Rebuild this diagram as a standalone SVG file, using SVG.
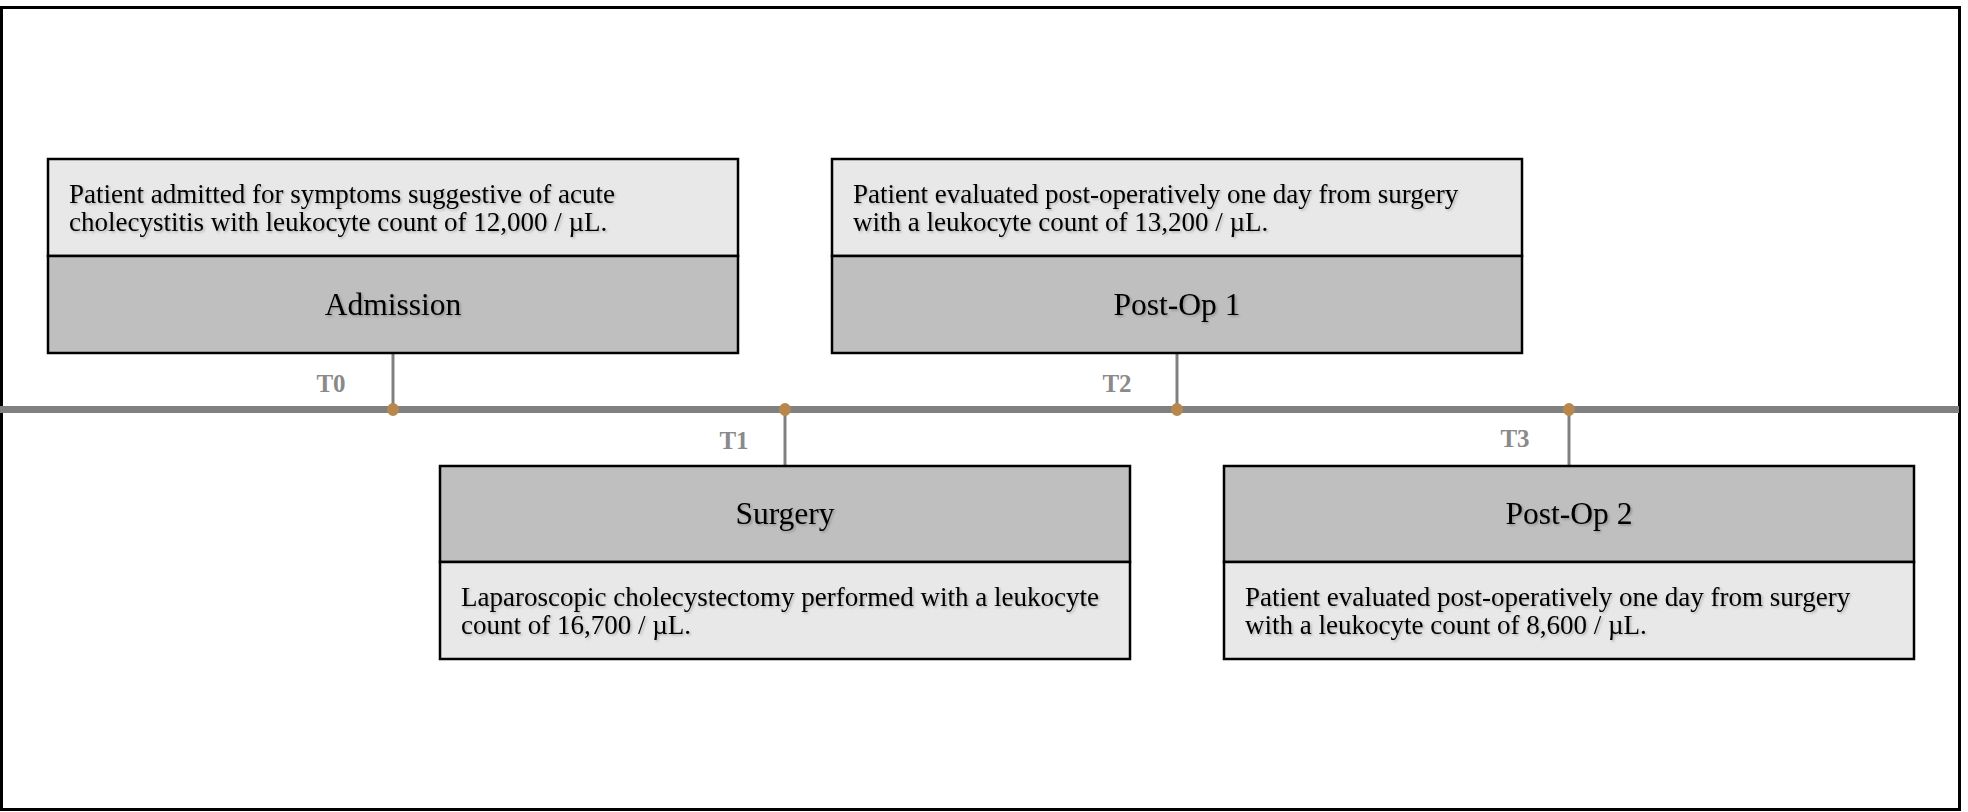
<svg xmlns="http://www.w3.org/2000/svg" width="1968" height="812" viewBox="0 0 1968 812">
<defs>
<filter id="sh" x="-10%" y="-30%" width="120%" height="160%">
<feDropShadow dx="1.5" dy="1.5" stdDeviation="1" flood-color="#000" flood-opacity="0.25"/>
</filter>
</defs>
<style>
.desc{fill:#e8e8e8;stroke:#000;stroke-width:2.5}
.head{fill:#bfbfbf;stroke:#000;stroke-width:2.5}
.dt{font-family:"Liberation Serif","Times New Roman",serif;font-size:27px;fill:#000;filter:url(#sh)}
.ht{font-family:"Liberation Serif","Times New Roman",serif;font-size:31.5px;fill:#000;text-anchor:middle;filter:url(#sh)}
.lbl{font-family:"Liberation Serif","Times New Roman",serif;font-size:25px;font-weight:bold;fill:#8a8a8a;text-anchor:middle}
.stem{stroke:#808080;stroke-width:3}
.dot{fill:#b8874d}
</style>
<rect x="1.5" y="7.5" width="1958" height="802" fill="#fff" stroke="#000" stroke-width="3"/>
<g id="connectors">
<line x1="0" y1="409.5" x2="1959" y2="409.5" stroke="#808080" stroke-width="7"/>
<line class="stem" x1="393" y1="353" x2="393" y2="409"/>
<line class="stem" x1="785" y1="409" x2="785" y2="466"/>
<line class="stem" x1="1177" y1="353" x2="1177" y2="409"/>
<line class="stem" x1="1569" y1="409" x2="1569" y2="466"/>
<ellipse class="dot" cx="393" cy="409.5" rx="6" ry="6.5"/>
<ellipse class="dot" cx="785" cy="409.5" rx="6" ry="6.5"/>
<ellipse class="dot" cx="1177" cy="409.5" rx="6" ry="6.5"/>
<ellipse class="dot" cx="1569" cy="409.5" rx="6" ry="6.5"/>
<text class="lbl" x="331" y="392">T0</text>
<text class="lbl" x="734" y="449">T1</text>
<text class="lbl" x="1117" y="392">T2</text>
<text class="lbl" x="1515" y="447">T3</text>
</g>
<g id="admission">
<rect class="desc" x="48" y="159" width="690" height="97"/>
<rect class="head" x="48" y="256" width="690" height="97"/>
<text class="dt" x="69" y="203">Patient admitted for symptoms suggestive of acute</text>
<text class="dt" x="69" y="231">cholecystitis with leukocyte count of 12,000 / µL.</text>
<text class="ht" x="393" y="315">Admission</text>
</g>
<g id="surgery">
<rect class="head" x="440" y="466" width="690" height="96"/>
<rect class="desc" x="440" y="562" width="690" height="97"/>
<text class="ht" x="785" y="524">Surgery</text>
<text class="dt" x="461" y="606">Laparoscopic cholecystectomy performed with a leukocyte</text>
<text class="dt" x="461" y="634">count of 16,700 / µL.</text>
</g>
<g id="postop1">
<rect class="desc" x="832" y="159" width="690" height="97"/>
<rect class="head" x="832" y="256" width="690" height="97"/>
<text class="dt" x="853" y="203">Patient evaluated post-operatively one day from surgery</text>
<text class="dt" x="853" y="231">with a leukocyte count of 13,200 / µL.</text>
<text class="ht" x="1177" y="315">Post-Op 1</text>
</g>
<g id="postop2">
<rect class="head" x="1224" y="466" width="690" height="96"/>
<rect class="desc" x="1224" y="562" width="690" height="97"/>
<text class="ht" x="1569" y="524">Post-Op 2</text>
<text class="dt" x="1245" y="606">Patient evaluated post-operatively one day from surgery</text>
<text class="dt" x="1245" y="634">with a leukocyte count of 8,600 / µL.</text>
</g>
</svg>
